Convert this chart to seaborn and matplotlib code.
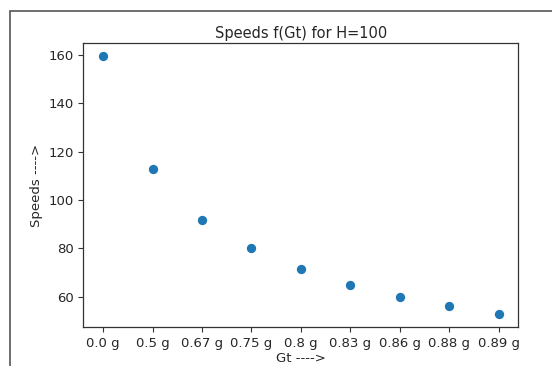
import matplotlib
matplotlib.use("Agg")
import matplotlib.pyplot as plt
import seaborn as sns
from matplotlib.patches import Rectangle

gt_labels = ["0.0 g", "0.5 g", "0.67 g", "0.75 g", "0.8 g", "0.83 g", "0.86 g", "0.88 g", "0.89 g"]
speeds = [159.6, 112.8, 91.9, 80.0, 71.4, 64.9, 60.0, 56.3, 52.9]

sns.set_style("ticks")
plt.rcParams['font.family'] = ['DejaVu Sans']
plt.rcParams['font.size'] = 9.5

fig = plt.figure(figsize=(5.52, 3.66), dpi=100)
ax = fig.add_axes([0.151, 0.107, 0.788, 0.775])
sns.scatterplot(x=gt_labels, y=speeds, ax=ax, color="#1f77b4", s=45, linewidth=0)
ax.margins(x=0.05, y=0.05)
ax.set_title("Speeds f(Gt) for H=100", fontsize=10.5, pad=4)
ax.set_xlabel("Gt ---->", fontsize=9.5, labelpad=2)
ax.set_ylabel("Speeds ---->", fontsize=9.5)
ax.set_yticks([60, 80, 100, 120, 140, 160])
for s in ax.spines.values():
    s.set_visible(True)
    s.set_color("#333333")
    s.set_linewidth(0.9)
ax.tick_params(colors="#333333", labelcolor="#262626", length=3.5, width=0.8)

fig.patches.append(Rectangle((10/552, -0.1), 2.0, 1.1 - 11/366, transform=fig.transFigure,
                             fill=False, edgecolor="#555555", linewidth=1.2))
fig.savefig("out.png", dpi=100)
